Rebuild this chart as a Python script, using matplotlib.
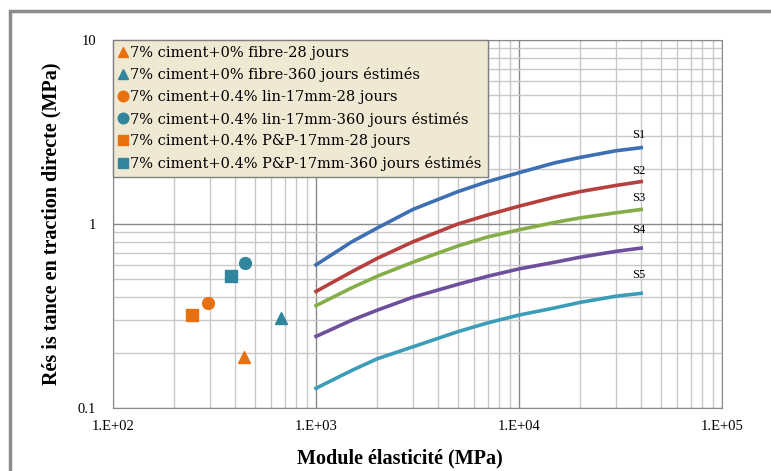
import numpy as np
from matplotlib import pyplot as plt
from matplotlib.patches import Rectangle
from matplotlib.ticker import FixedLocator, FixedFormatter, LogLocator, NullFormatter

plt.rcParams['font.family'] = ['Liberation Serif', 'DejaVu Serif']

# courbes S1..S5 (module en MPa, résistance en MPa)
x_courbe = [1000, 1500, 2000, 3000, 5000, 7000, 10000, 15000, 20000, 30000, 40000]
s1 = [0.6, 0.8, 0.95, 1.2, 1.5, 1.7, 1.9, 2.15, 2.3, 2.5, 2.6]
s2 = [0.43, 0.55, 0.65, 0.8, 1.0, 1.12, 1.25, 1.4, 1.5, 1.62, 1.7]
s3 = [0.36, 0.45, 0.52, 0.62, 0.76, 0.85, 0.93, 1.02, 1.08, 1.15, 1.2]
s4 = [0.245, 0.3, 0.34, 0.4, 0.47, 0.52, 0.57, 0.62, 0.66, 0.71, 0.74]
s5 = [0.128, 0.16, 0.185, 0.215, 0.26, 0.29, 0.32, 0.35, 0.375, 0.405, 0.42]
noms_courbes = ['S1', 'S2', 'S3', 'S4', 'S5']
y_etiquettes = [3.05, 1.95, 1.38, 0.93, 0.53]

# points mesurés / estimés
labels_pts = ['7% ciment+0% fibre-28 jours',
              '7% ciment+0% fibre-360 jours éstimés',
              '7% ciment+0.4% lin-17mm-28 jours',
              '7% ciment+0.4% lin-17mm-360 jours éstimés',
              '7% ciment+0.4% P&P-17mm-28 jours',
              '7% ciment+0.4% P&P-17mm-360 jours éstimés']
x_pts = [440, 670, 295, 445, 246, 383]
y_pts = [0.19, 0.31, 0.37, 0.61, 0.32, 0.52]
marqueurs = ['^', '^', 'o', 'o', 's', 's']

orange = '#E8700F'
bleu = '#31859C'
couleurs_pts = [orange, bleu, orange, bleu, orange, bleu]
couleurs_courbes = ['#3D6FB3', '#B5403D', '#86AE48', '#6E4F9C', '#3C9DB8']

fig = plt.figure(figsize=(7.71, 4.71), dpi=100)
fig.patches.append(Rectangle((10 / 771, -0.01), 1.0, 1 - 11 / 471 + 0.01, transform=fig.transFigure,
                             fill=False, edgecolor='#8C8C8C', linewidth=2.5))
ax = fig.add_axes([113 / 771, 1 - 408 / 471, (722 - 113) / 771, (408 - 40) / 471])

for i, s in enumerate([s1, s2, s3, s4, s5]):
    ax.plot(x_courbe, s, color=couleurs_courbes[i], lw=2.6, zorder=3)
    ax.text(x_courbe[-1] * 0.97, y_etiquettes[i], noms_courbes[i], fontsize=9, ha='center', va='center')

for i in range(len(x_pts)):
    ax.plot(x_pts[i], y_pts[i], marker=marqueurs[i], color=couleurs_pts[i], ms=8.5, ls='none',
            label=labels_pts[i], zorder=4)

ax.set_xscale('log')
ax.set_yscale('log')
ax.set_xlim(100, 100000)
ax.set_ylim(0.1, 10)
ax.xaxis.set_major_locator(FixedLocator([1e2, 1e3, 1e4, 1e5]))
ax.xaxis.set_major_formatter(FixedFormatter(['1.E+02', '1.E+03', '1.E+04', '1.E+05']))
ax.yaxis.set_major_locator(FixedLocator([0.1, 1, 10]))
ax.yaxis.set_major_formatter(FixedFormatter(['0.1', '1', '10']))
ax.xaxis.set_minor_locator(LogLocator(base=10, subs=np.arange(2, 10)))
ax.yaxis.set_minor_locator(LogLocator(base=10, subs=np.arange(2, 10)))
ax.xaxis.set_minor_formatter(NullFormatter())
ax.yaxis.set_minor_formatter(NullFormatter())
ax.tick_params(which='both', length=0, labelsize=10.5)
ax.tick_params(axis='x', pad=9)
ax.tick_params(axis='y', pad=12)
ax.grid(which='major', color='#8A8A8A', lw=1)
ax.grid(which='minor', color='#C8C8C8', lw=1)
ax.set_axisbelow(True)
for sp in ax.spines.values():
    sp.set_color('#8A8A8A')

ax.set_xlabel('Module élasticité (MPa)', fontsize=14.5, fontweight='bold')
ax.xaxis.set_label_coords(0.471, -0.11)
ax.set_ylabel('Rés is tance en traction directe (MPa)', fontsize=14.5, fontweight='bold', labelpad=12)

leg = ax.legend(loc='upper left', bbox_to_anchor=(0, 1), frameon=True, fancybox=False,
                prop={'family': ['DejaVu Serif'], 'size': 10.5},
                handlelength=0.6, handletextpad=0.2, borderpad=0.4, labelspacing=0.52,
                markerscale=0.9, borderaxespad=0)
leg.get_frame().set_facecolor('#EFE8D3')
leg.get_frame().set_edgecolor('#7F7F7F')
leg.get_frame().set_alpha(1)

plt.savefig('out.png', dpi=100)
